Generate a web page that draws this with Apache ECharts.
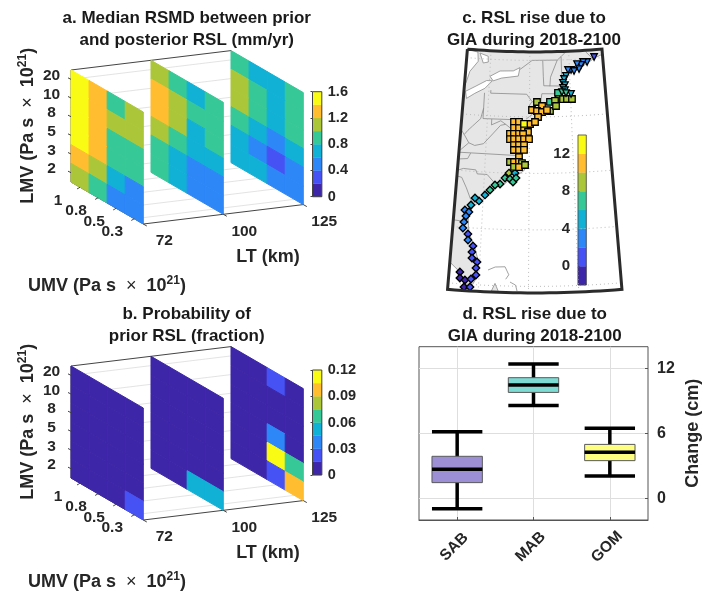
<!DOCTYPE html>
<html><head><meta charset="utf-8">
<style>html,body{margin:0;padding:0;background:#fff}#c{width:703px;height:596px}</style>
<script src="https://cdn.jsdelivr.net/npm/echarts@6/dist/echarts.min.js"></script>
</head><body><div id="c"></div>
<script>
// ---------- palette ----------
const parula8 = ['#3e26a8','#4752f4','#2d87f7','#11b1d6','#37c897','#abc739','#ffbd2f','#f9fb15'];
// ---------- panel a/b axes ----------
const lmvLabels = ['20','10','8','5','3','2'];
const umvLabels = ['1','0.8','0.5','0.3'];
const ltLabels = ['72','100','125'];
// rows = LMV (20 .. 2), columns = UMV (1 .. 0.3)
const rmsdLT72 = [
 [1.5,1.3,0.9,1.1],[1.5,1.3,1.1,1.1],[1.5,1.3,0.9,0.9],[1.5,1.3,0.9,0.9],[1.3,1.1,0.7,0.5],[1.1,0.9,0.5,0.5]];
const rmsdLT100 = [
 [1.1,0.9,0.7,0.9],[1.3,1.1,0.9,0.9],[1.3,1.1,0.7,0.9],[1.1,0.9,0.7,0.7],[0.9,0.7,0.5,0.5],[0.9,0.7,0.5,0.5]];
const rmsdLT125 = [
 [0.9,0.7,0.7,0.9],[1.1,0.9,0.7,0.9],[1.1,0.9,0.7,0.9],[0.9,0.7,0.5,0.7],[0.7,0.5,0.3,0.5],[0.7,0.7,0.5,0.5]];
const probLT72 = [
 [0,0,0,0],[0,0,0,0],[0,0,0,0],[0,0,0,0],[0,0,0,0],[0,0,0,0.0225]];
const probLT100 = [
 [0,0,0,0],[0,0,0,0],[0,0,0,0],[0,0,0,0],[0,0,0,0],[0,0,0.0525,0.0525]];
const probLT125 = [
 [0,0,0.0225,0],[0,0,0,0],[0,0,0,0],[0,0,0.0375,0],[0,0,0.1125,0.0675],[0,0,0.0225,0.0975]];
// ---------- panel c: gauges [lon, lat, cm] ----------
const gomGauges = [
 [-66.79,45.11,1],[-67.72,44.71,3],[-68.23,44.73,3],[-68.51,44.48,3],[-69.01,44.58,3],[-68.79,44.13,3],
 [-69.80,44.08,3],[-70.18,44.09,3],[-69.43,43.98,3],[-70.46,43.57,4.5],[-70.72,43.31,5],[-70.87,42.96,5],
 [-70.63,42.77,5],[-70.89,42.52,5],[-70.65,42.33,5],[-71.03,42.16,6.5],[-69.93,41.96,5.5],[-70.54,42.06,6.5]];
const mabGauges = [
 [-71.52,42.09,7],[-71.42,41.55,9],[-70.93,41.54,9],[-70.45,41.53,9],[-69.84,41.51,9],[-72.52,41.31,7],
 [-71.91,41.39,9],[-74.10,41.32,9],[-73.49,40.96,11],[-72.54,40.51,9],[-71.80,40.94,9],[-74.70,40.61,11],
 [-74.10,40.52,11],[-73.50,40.43,11],[-72.90,40.60,11],[-73.98,39.99,11],
 [-76.83,39.53,11],[-76.24,39.54,11],[-74.93,39.37,11],[-74.34,39.55,11],
 [-76.81,39.00,11],[-76.22,39.00,11],[-75.63,38.92,11],[-75.16,38.66,11],
 [-77.27,38.46,11],[-76.80,38.47,11],[-76.21,38.48,11],[-75.74,38.48,11],
 [-77.25,38.01,11],[-76.78,38.02,11],[-76.20,38.03,11],[-75.62,38.03,11],[-75.04,38.04,11],
 [-76.77,37.49,11],[-76.19,37.50,11],[-75.61,37.51,11],[-76.76,37.05,11],[-76.18,37.06,11],[-75.61,37.07,11],
 [-75.64,39.37,13],[-76.17,36.44,11],[-77.18,35.98,9],[-76.72,35.99,11],[-76.16,36.00,11],[-75.82,35.91,9],
 [-76.71,35.55,9],[-76.15,35.55,11],[-75.47,35.74,9]];
const sabGauges = [
 [-77.26,35.00,9],[-76.59,35.02,5],[-77.69,34.55,7],[-77.13,34.48,7],[-76.79,34.22,7],[-76.46,34.58,7],
 [-78.22,34.01,7],[-78.77,33.90,7],[-79.30,33.44,7],[-79.82,32.98,5],[-80.44,32.42,5],[-80.89,32.66,5],
 [-81.28,32.02,5],[-81.89,31.54,3],[-81.45,31.39,3],[-81.74,31.02,3],[-81.91,30.48,3],[-81.97,29.94,3],
 [-81.40,29.44,1.5],[-81.35,28.91,3],[-80.79,28.41,1],[-80.86,27.87,1],[-80.82,27.34,1],[-80.28,27.02,1],
 [-80.35,26.48,1],[-80.31,25.86,1],[-81.95,26.04,-1],[-81.91,25.51,-1],[-81.39,25.36,-1],[-80.79,25.48,1],
 [-81.44,24.74,-1],[-80.84,24.77,1]];
// ---------- panel c: outlines, lon/lat ----------
const coastline = [
 [-65.7,45.3],[-66.8,45.0],[-67.7,44.6],[-68.5,44.3],[-69.4,43.9],[-70.2,43.9],[-70.6,43.4],[-70.8,42.9],[-70.9,42.4],
 [-71,42.1],[-70.3,41.9],[-70,41.7],[-71.5,41.4],[-72.5,41.2],[-73.6,41],[-74,40.5],[-74.1,39.8],[-74.6,39.3],[-75,38.9],
 [-75.5,39.4],[-75.3,38.5],[-75.5,37.8],[-75.9,37.1],[-76.2,37],[-75.9,36.5],[-75.5,35.3],[-76.5,34.7],[-77.2,34.4],
 [-77.9,33.9],[-78.8,33.7],[-79.3,33.2],[-79.9,32.6],[-80.6,32.2],[-81.1,31.8],[-81.5,31],[-81.4,30.2],[-81.3,29.6],
 [-81,29],[-80.6,28.3],[-80.3,27.5],[-80.1,26.7],[-80.2,25.7],[-80.6,25],[-81.3,25],[-81.9,25.6],[-82.17,26.2],[-83.05,26.85],
 [-83.05,45.75],[-79,45.75],[-74.4,45.75],[-70,45.75],[-65.7,45.75]];
const lakeOntario = [[-79.96,43.49],[-78.73,44.0],[-77.06,44.05],[-76.23,44.35],[-76.43,43.6],[-78.5,43.38],[-79.53,43.1]];
const lakeErie = [[-82.85,42.02],[-81.74,42.5],[-80.34,43.1],[-79.64,43.1],[-80.51,42.4],[-81.7,41.9],[-82.67,41.4]];
const lakeHuron = [[-83.05,45.7],[-81.67,45.57],[-81.55,44.75],[-82.51,43.81],[-82.89,42.76],[-83.05,42.7]];
const georgianBay = [[-81.4,45.49],[-80.32,45.25],[-80.27,44.74],[-80.9,44.63]];
const cubaTip = [[-78.7,24.5],[-78.36,25.2],[-78,24.5]];
const boundaries = [
 [[-76.2,44.2],[-74.7,45],[-71.5,45],[-71,45.3],[-70.3,45.75]],
 [[-67.8,45.75],[-67.8,45.6],[-67.4,45.3],[-67,45]],
 [[-71.5,45],[-72.4,43.5],[-72.5,42.7]],
 [[-73.35,45],[-73.3,43.6],[-73.25,42.75]],
 [[-73.25,42.75],[-71.3,42.7],[-70.8,42.85]],
 [[-73.5,42.05],[-71.8,42.02],[-71.4,42],[-71.4,41.5]],
 [[-73.5,42.05],[-73.7,41]],
 [[-71.8,42],[-71.85,41.3]],
 [[-71,45.3],[-71,43.5],[-70.7,43.1]],
 [[-79.76,42.27],[-79.76,42],[-75.35,42],[-74.7,41.36]],
 [[-74.7,41.36],[-75.1,40.9],[-74.7,40.2],[-75.4,39.8]],
 [[-74.7,41.36],[-73.9,41]],
 [[-80.52,42],[-80.52,39.72],[-75.8,39.72]],
 [[-80.52,40.64],[-80.8,39.7],[-81.7,39],[-82.2,38.6],[-82.6,38.2],[-83.05,38.65]],
 [[-82.6,38.2],[-82,37.5],[-83.05,36.7]],
 [[-82,37.5],[-81.3,37.3],[-80.3,37.5],[-79.3,38.4],[-78.4,39.2],[-77.8,39.3]],
 [[-79.48,39.72],[-79.48,39.2],[-78.4,39.6],[-77.8,39.3],[-77.1,38.9],[-76.3,38]],
 [[-75.8,39.72],[-75.7,38.46],[-75.05,38.45]],
 [[-83.05,36.6],[-75.9,36.55]],
 [[-83.05,35],[-82.4,35.2],[-81,35.15],[-80.8,34.8],[-79.7,34.8],[-78.55,33.85]],
 [[-83.05,34.5],[-82.5,34.4],[-81.9,33.5],[-81.4,32.6],[-80.9,32.05]],
 [[-83.05,30.6],[-82.2,30.55],[-82,30.4],[-81.5,30.7]],
 [[-83.05,36],[-82,36.1],[-81.7,36.6]],
 [[-79.12,26.36],[-78.4,26.65],[-77.4,26.7],[-77,26],[-77.3,25.6]],
 [[-76.86,25.36],[-76.3,25.1],[-76.14,24.58]]
];
const mapParallels = [25,30,35,40,45];
const mapMeridians = [-80,-75,-70];
// ---------- panel d ----------
const regions = ['SAB','MAB','GOM'];
const regionStats = [ // low, q1, median, q3, high
 [-0.95,1.45,2.68,3.88,6.15],
 [8.58,9.78,10.46,11.14,12.4],
 [2.06,3.48,4.25,4.98,6.46]];
const regionColors = ['#9c8fd6','#7ddbd3','#fdfd7f'];

// ---------- shared styling ----------
const FONT = '"Liberation Sans", Arial, sans-serif';
const INK = '#262626';
const AXIS = '#444';

// ---------- oblique projection for panels a,b ----------
const LT_STEP = 4.425, LT_RISE = 0.52, DEPTH_DROP = 0.5625;
const ob = (u,d,r) => [u*LT_STEP + d, r - d*DEPTH_DROP + u*LT_RISE];
const NR = 6, NC = 4;

function cellSeries(gridIdx, slices, lo, hi){
  const data = [];
  slices.forEach((m,u)=>m.forEach((row,i)=>row.forEach((v,d)=>data.push([u,d,NR-1-i,v]))));
  return {
    type:'custom', xAxisIndex:gridIdx, yAxisIndex:gridIdx, z:3, silent:true, data,
    encode:{x:-1,y:-1},
    renderItem(p,api){
      const u=api.value(0),d=api.value(1),r=api.value(2),v=api.value(3);
      const lvl=Math.min(7,Math.max(0,Math.floor((v-lo)/(hi-lo)*8)));
      const pts=[ob(u,d,r),ob(u,d+1,r),ob(u,d+1,r+1),ob(u,d,r+1)].map(q=>api.coord(q));
      return {type:'polygon',shape:{points:pts},style:{fill:parula8[lvl],stroke:parula8[lvl],lineWidth:1}};
    }
  };
}
function frameSeries(gridIdx){
  const segs=[];
  for(let i=0;i<NR;i++) segs.push([0,0,i+.5,2,0,i+.5,0]);
  for(let i=0;i<NC;i++) segs.push([0,i+.5,0,2,i+.5,0,0]);
  segs.push([1,0,0,1,NC,0,0],[2,0,0,2,NC,0,0]);
  segs.push([0,0,NR,2,0,NR,1],[0,NC,0,2,NC,0,1],[0,0,0,0,NC,0,1],[0,0,0,0,0,NR,1]);
  return {
    type:'custom', xAxisIndex:gridIdx,yAxisIndex:gridIdx,z:2,silent:true,data:segs,encode:{x:-1,y:-1},
    renderItem(p,api){
      const a=api.coord(ob(api.value(0),api.value(1),api.value(2)));
      const b=api.coord(ob(api.value(3),api.value(4),api.value(5)));
      const k=api.value(6);
      return {type:'line',shape:{x1:a[0],y1:a[1],x2:b[0],y2:b[1]},
        style:{stroke:k?AXIS:'#dcdcdc',lineWidth:k?1:0.8}};
    }
  };
}
function tickSeries(gridIdx){
  const items=[];
  lmvLabels.forEach((t,i)=>items.push({value:[0,0,NR-1-i+.5,0],t,ox:-19.5,oy:-3.6,tx:-3,ty:-1.5}));
  umvLabels.forEach((t,i)=>items.push({value:[0,i+.5,0,0],t,ox:-22,oy:13,tx:-3,ty:1.7}));
  ltLabels.forEach((t,i)=>items.push({value:[i,NC,0,0],t,ox:21,oy:17,tx:3.5,ty:2}));
  return {
    type:'custom',xAxisIndex:gridIdx,yAxisIndex:gridIdx,z:4,silent:true,data:items,encode:{x:-1,y:-1},
    renderItem(p,api){
      const it=items[p.dataIndex];
      const c=api.coord(ob(api.value(0),api.value(1),api.value(2)));
      return {type:'group',children:[
        {type:'line',shape:{x1:c[0],y1:c[1],x2:c[0]+it.tx,y2:c[1]+it.ty},style:{stroke:AXIS,lineWidth:1}},
        {type:'text',x:c[0]+it.ox,y:c[1]+it.oy,style:{text:it.t,fill:INK,font:'bold 15.5px '+FONT,align:'center',verticalAlign:'middle'}}
      ]};
    }
  };
}
function barSeries(gridIdx,lo,hi){
  const step=(hi-lo)/8, data=parula8.map((c,i)=>[lo+i*step,lo+(i+1)*step,i]);
  return {type:'custom',xAxisIndex:gridIdx,yAxisIndex:gridIdx,z:3,silent:true,data,encode:{x:-1,y:[0,1]},
    renderItem(p,api){
      const a=api.coord([0,api.value(0)]),b=api.coord([1,api.value(1)]);
      return {type:'rect',shape:{x:a[0],y:b[1],width:b[0]-a[0],height:a[1]-b[1]},
        style:{fill:parula8[api.value(2)],stroke:parula8[api.value(2)],lineWidth:0.3}};
    }};
}
const barY=(lo,hi,opt)=>Object.assign({type:'value',min:lo,max:hi,position:'right',gridIndex:0,
  axisLine:{show:false},axisTick:{show:true,inside:true,length:2,lineStyle:{color:AXIS}},splitLine:{show:false},
  axisLabel:{color:INK,fontFamily:FONT,fontWeight:'bold',fontSize:14.5,margin:6}},opt);

const grids=[], xAxes=[], yAxes=[], series=[];
function addGrid(g,x,y){const idx=grids.length;grids.push(g);xAxes.push(Object.assign({gridIndex:idx},x));yAxes.push(Object.assign({},y,{gridIndex:idx}));return idx;}
const obXMax=2*LT_STEP+NC, obYMin=-NC*DEPTH_DROP, obYMax=NR+2*LT_RISE;
const hiddenOb={type:'value',min:obYMin,max:obYMax,show:false};
const hiddenObX={type:'value',min:0,max:obXMax,show:false};
[[rmsdLT72,rmsdLT100,rmsdLT125,0,1.6,0],[probLT72,probLT100,probLT125,0,0.12,296]].forEach(([a,b,c,lo,hi,dy])=>{
  const g=addGrid({left:71,top:50.6+dy,width:232.3,height:173.4},hiddenObX,hiddenOb);
  series.push(frameSeries(g),cellSeries(g,[a,b,c],lo,hi),tickSeries(g));
});
const gBarA=addGrid({left:312.5,top:91.7,width:9.3,height:105,show:true,borderColor:AXIS,borderWidth:1,z:5},{type:'value',min:0,max:1,show:false},barY(0,1.6,{interval:0.4}));
series.push(barSeries(gBarA,0,1.6));
const gBarB=addGrid({left:312.5,top:370,width:9.3,height:105,show:true,borderColor:AXIS,borderWidth:1,z:5},{type:'value',min:0,max:1,show:false},
  barY(0,0.12,{interval:0.03,axisLabel:{color:INK,fontFamily:FONT,fontWeight:'bold',fontSize:14.5,margin:6,formatter:v=>String(parseFloat(v.toFixed(2)))}}));
series.push(barSeries(gBarB,0,0.12));
const gBarC=addGrid({left:578,top:135,width:8.3,height:150,show:true,borderColor:AXIS,borderWidth:0.8,z:5},{type:'value',min:0,max:1,show:false},
  barY(-2,14,{axisTick:{show:true,inside:true,length:2,customValues:[0,4,8,12],lineStyle:{color:AXIS}},
    axisLabel:{color:INK,fontFamily:FONT,fontWeight:'bold',fontSize:15,margin:8,customValues:[0,4,8,12]},position:'left'}));
series.push(barSeries(gBarC,-2,14));

// panel d
const gBox=addGrid({left:419,top:346.7,width:232,height:173.3,show:true,borderColor:'#555',borderWidth:1},
 {type:'category',data:regions,axisLine:{onZero:false,lineStyle:{color:'#555'}},
  axisTick:{show:true,alignWithLabel:true,inside:true,length:3,lineStyle:{color:'#555'}},
  splitLine:{show:true,alignWithLabel:true,lineStyle:{color:'#dedede',width:1}},
  axisLabel:{color:INK,fontFamily:FONT,fontWeight:'bold',fontSize:15.5,rotate:45,margin:24,interval:0,align:'center',verticalAlign:'middle',padding:[0,8,0,0]}},
 {type:'value',min:-2,max:14,position:'right',
  axisLine:{show:false},
  axisTick:{show:true,inside:true,length:3,customValues:[0,6,12],lineStyle:{color:'#555'}},
  splitLine:{show:true,lineStyle:{color:'#dedede',width:1}},
  axisLabel:{color:INK,fontFamily:FONT,fontWeight:'bold',fontSize:16,margin:9,customValues:[0,6,12]},
  name:'Change (cm)',nameLocation:'middle',nameRotate:90,nameGap:36,
  nameTextStyle:{color:INK,fontFamily:FONT,fontWeight:'bold',fontSize:18}});
series.push({type:'custom',xAxisIndex:gBox,yAxisIndex:gBox,z:3,silent:true,
  data:regionStats.map((s,i)=>[i,...s]),encode:{x:0,y:[1,2,3,4,5]},
  renderItem(p,api){
    const i=api.value(0),w=api.size([1,0])[0]*0.66;
    const cx=api.coord([i,0])[0],Y=k=>api.coord([i,api.value(k)])[1];
    const x0=cx-w/2,x1=cx+w/2, bl={stroke:'#000',lineWidth:3.5};
    const ln=(a,b,c,d)=>({type:'line',shape:{x1:a,y1:b,x2:c,y2:d},style:bl});
    return {type:'group',children:[
      ln(cx,Y(1),cx,Y(5)),
      {type:'rect',shape:{x:x0,y:Y(4),width:w,height:Y(2)-Y(4)},style:{fill:regionColors[i],stroke:'#5a5a5a',lineWidth:1}},
      ln(x0,Y(1),x1,Y(1)),ln(x0,Y(5),x1,Y(5)),ln(x0,Y(3),x1,Y(3))
    ]};
  }});

// ---------- panel c map ----------
const CONE=0.546, LON0=-74.4, APEX_X=534.5, APEX_Y=-763, RHO25=1049.4, PER_DEG=11.3;
const LON_W=-83.05, LON_E=-65.7, LAT_S=24.42, LAT_N=45.75;
const project=([lon,lat])=>{const rho=RHO25-(lat-25)*PER_DEG,th=CONE*(lon-LON0)*Math.PI/180;
  return [APEX_X+rho*Math.sin(th),APEX_Y+rho*Math.cos(th)];};
const unproject=([x,y])=>{const dx=x-APEX_X,dy=y-APEX_Y,rho=Math.hypot(dx,dy);
  return [LON0+Math.atan2(dx,dy)*180/Math.PI/CONE,25+(RHO25-rho)/PER_DEG];};
const steps=(a,b,n)=>Array.from({length:n+1},(_,i)=>a+(b-a)*i/n);
const framePts=[...steps(LON_W,LON_E,24).map(l=>[l,LAT_N]),...steps(LON_E,LON_W,24).map(l=>[l,LAT_S])];
framePts.push(framePts[0]);
const poly=(name,ring)=>({type:'Feature',properties:{name},geometry:{type:'Polygon',coordinates:[[...ring,ring[0]]]}});
echarts.registerMap('coast',{type:'FeatureCollection',features:[
  poly('frame',framePts.slice(0,-1)),poly('land',coastline),poly('ontario',lakeOntario),poly('erie',lakeErie),
  poly('huron',lakeHuron),poly('georgian',georgianBay),poly('tip',cubaTip)]});
const projected=framePts.map(project),xs=projected.map(q=>q[0]),ys=projected.map(q=>q[1]);
const geoBox={left:Math.min(...xs),top:Math.min(...ys),width:Math.max(...xs)-Math.min(...xs),height:Math.max(...ys)-Math.min(...ys)};
const lakeStyle={itemStyle:{areaColor:'#fff',borderColor:'#8c8c8c',borderWidth:0.8}};
const geo=Object.assign({map:'coast',roam:false,silent:true,projection:{project,unproject},
  itemStyle:{areaColor:'#fff',borderWidth:0},emphasis:{disabled:true},select:{disabled:true},
  regions:[{name:'frame',itemStyle:{areaColor:'#fff',borderWidth:0}},
   {name:'land',itemStyle:{areaColor:'#e6e6e6',borderColor:'#8c8c8c',borderWidth:0.8}},
   Object.assign({name:'ontario'},lakeStyle),Object.assign({name:'erie'},lakeStyle),
   Object.assign({name:'huron'},lakeStyle),Object.assign({name:'georgian'},lakeStyle),
   {name:'tip',itemStyle:{areaColor:'#e6e6e6',borderColor:'#8c8c8c',borderWidth:0.8}}]},geoBox);

series.push({type:'lines',coordinateSystem:'geo',polyline:true,silent:true,z:3,
  lineStyle:{color:'#8a8a8a',width:0.8,opacity:1},data:boundaries.map(c=>({coords:c}))});
const graticule=[...mapParallels.map(la=>steps(LON_W,LON_E,20).map(l=>[l,la])),
                 ...mapMeridians.map(l=>steps(LAT_S,LAT_N,6).map(la=>[l,la]))];
series.push({type:'lines',coordinateSystem:'geo',polyline:true,silent:true,z:3,
  lineStyle:{color:'#bdbdbd',width:1,type:[1,3],opacity:1},data:graticule.map(c=>({coords:c}))});
const colorCm=p=>parula8[Math.min(7,Math.max(0,Math.floor((p.value[2]+2)/2)))];
const gaugeSeries=(data,symbol,size,rot)=>({type:'scatter',coordinateSystem:'geo',silent:true,z:6,data,symbol,symbolSize:size,symbolRotate:rot,
  itemStyle:{color:colorCm,borderColor:'#000',borderWidth:1.3,opacity:1}});
series.push(gaugeSeries(sabGauges,'diamond',7.5,0),gaugeSeries(mabGauges,'rect',6.5,0),gaugeSeries(gomGauges,'triangle',6.5,180));
series.push({type:'lines',coordinateSystem:'geo',polyline:true,silent:true,z:8,
  lineStyle:{color:'#2b2b2b',width:3,opacity:1},data:[{coords:framePts}]});

// ---------- text ----------
const titleStyle={color:'#1a1a1a',fontFamily:FONT,fontWeight:'bold',fontSize:17,lineHeight:21.7};
const mkTitle=(text,x,y)=>({text,left:x,top:y,textAlign:'center',padding:0,textStyle:titleStyle});
const rich={b:{fontFamily:FONT,fontWeight:'bold',fontSize:18,fill:INK,color:INK,lineHeight:21,verticalAlign:'bottom'},
  t:{fontFamily:FONT,fontWeight:'normal',fontSize:18,fill:INK,color:INK,lineHeight:21,verticalAlign:'bottom'},
  s:{fontFamily:FONT,fontWeight:'bold',fontSize:12,fill:INK,color:INK,lineHeight:21,verticalAlign:'top'}};
const titleLabel=(name)=>`{b|${name} (Pa s}{t|  ×  }{b|10}{s|21}{b|)}`;
const txt=(text,x,y,rot)=>({type:'text',x,y,rotation:rot||0,silent:true,
  style:{text,rich,align:'center',verticalAlign:'middle',fill:INK,font:'bold 18px '+FONT}});
const plain=(text,x,y,size)=>({type:'text',x,y,silent:true,style:{text,fill:INK,font:'bold '+(size||18)+'px '+FONT,align:'center',verticalAlign:'middle'}});
const graphics=[
  txt(titleLabel('LMV'),27,125.8,Math.PI/2),txt(titleLabel('UMV'),107,285),plain('LT (km)',268,257),
  txt(titleLabel('LMV'),27,421.8,Math.PI/2),txt(titleLabel('UMV'),107,581),plain('LT (km)',268,553),
  plain('cm',582,121,16)];

const chart=echarts.init(document.getElementById('c'),null,{renderer:'canvas'});
chart.setOption({animation:false,backgroundColor:'#fff',
  textStyle:{fontFamily:FONT},
  title:[mkTitle('a. Median RSMD between prior\nand posterior RSL (mm/yr)',186.7,7.5),
         mkTitle('b. Probability of\nprior RSL (fraction)',186.7,303.5),
         mkTitle('c. RSL rise due to\nGIA during 2018-2100',534,7.5),
         mkTitle('d. RSL rise due to\nGIA during 2018-2100',534.7,303.5)],
  grid:grids,xAxis:xAxes,yAxis:yAxes,geo,series,graphic:graphics});
</script></body></html>
